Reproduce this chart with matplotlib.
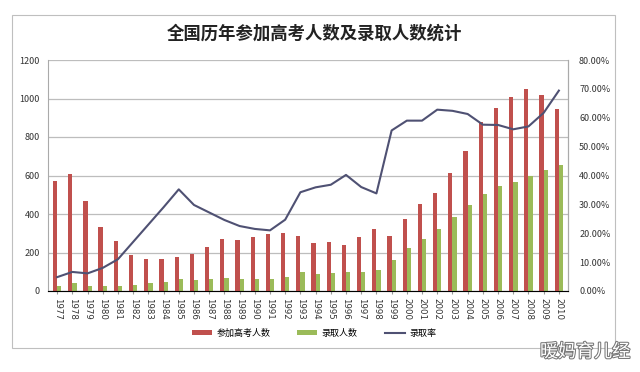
import numpy as np
import matplotlib.pyplot as plt
import matplotlib.patheffects as pe
from matplotlib.patches import Rectangle

plt.rcParams['font.family'] = ['Noto Sans CJK SC', 'DejaVu Sans']

years = [str(y) for y in range(1977, 2011)]
applicants = [570, 610, 468, 333, 259, 187, 167, 164, 176, 191, 228, 272, 266, 283, 296, 303, 286,
              251, 253, 241, 278, 320, 288, 375, 454, 510, 613, 729, 877, 950, 1010, 1050, 1020, 946]
admitted = [27, 40, 28, 28, 28, 32, 39, 48, 62, 57, 62, 67, 60, 61, 62, 75, 98,
            90, 93, 97, 100, 108, 160, 221, 268, 320, 382, 447, 504, 546, 566, 599, 629, 657]
rate = [4.8, 6.6, 6.1, 8.0, 11.0, 17.0, 23.0, 29.0, 35.2, 29.8, 27.2, 24.6, 22.5, 21.5, 21.0, 24.7, 34.2,
        35.9, 36.8, 40.2, 36.0, 33.8, 55.6, 59.0, 59.0, 62.8, 62.4, 61.3, 57.6, 57.5, 56.0, 57.0, 61.7, 69.4]

red = '#c0504d'
green = '#9bbb59'
navy = '#4f5173'

fig = plt.figure(figsize=(6.4, 3.72), dpi=100)
fig.patches.append(Rectangle((12/640, 1-348/372), 603/640, 333/372, transform=fig.transFigure,
                             fill=False, edgecolor='#bfbfbf', lw=0.8))

ax = fig.add_axes([48/640, 1-291/372, 520/640, 231/372])
x = np.arange(len(years))
w = 0.28
ax.bar(x - w/2, applicants, w, color=red, label='参加高考人数', zorder=3)
ax.bar(x + w/2, admitted, w, color=green, label='录取人数', zorder=3)
ax.set_xlim(-0.6, len(years) - 0.4)
ax.set_ylim(0, 1200)
ax.set_yticks(range(0, 1201, 200))
ax.grid(axis='y', color='#bdbdbd', lw=0.9, zorder=0)
ax.set_xticks(x)
ax.set_xticklabels(years, rotation=-90, fontsize=6.2, family='DejaVu Sans')
ax.tick_params(axis='y', labelsize=6.5, length=0, pad=6, colors='#333333')
ax.tick_params(axis='x', length=2, color='#999999', pad=3, colors='#333333')
ax.spines['top'].set_visible(False)
for s in ['left', 'right', 'bottom']:
    ax.spines[s].set_color('#aaaaaa')

ax2 = ax.twinx()
ln, = ax2.plot(x, rate, color=navy, lw=1.5, label='录取率', zorder=4)
ax2.set_ylim(0, 80)
ax2.set_yticks(range(0, 81, 10))
ax2.set_yticklabels([f'{v}.00%' for v in range(0, 81, 10)])
ax2.tick_params(axis='y', labelsize=6.5, length=0, pad=8, colors='#333333')
ax2.spines['top'].set_visible(False)
ax2.spines['right'].set_color('#aaaaaa')
ax2.spines['left'].set_visible(False)

h1, l1 = ax.get_legend_handles_labels()
fig.legend(h1 + [ln], l1 + ['录取率'], loc='center', bbox_to_anchor=(314/640, 1-333/372),
           ncol=3, frameon=False, fontsize=6.5, handlelength=2.2, handleheight=0.5,
           columnspacing=3, handletextpad=0.5)

fig.text(314/640, 1-34/372, '全国历年参加高考人数及录取人数统计', ha='center', va='center',
         fontsize=12.5, fontweight='bold', color='#222222')

fig.text(585/640, 1-352/372, '暖妈育儿经', ha='center', va='center', fontsize=13,
         color='white', path_effects=[pe.withStroke(linewidth=1.5, foreground='#777777')])

fig.savefig('out.png', dpi=100)
